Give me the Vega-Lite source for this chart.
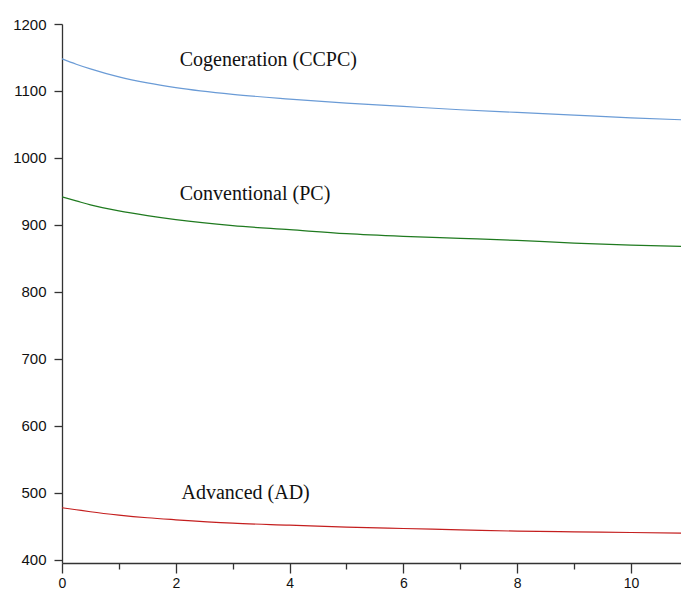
{
  "$schema": "https://vega.github.io/schema/vega-lite/v6.json",
  "width": 619,
  "height": 539,
  "autosize": {"type": "none"},
  "padding": {"left": 62, "top": 24, "right": 0, "bottom": 27},
  "background": "white",
  "config": {"view": {"stroke": null}},
  "datasets": {
    "curves": [
      {"x": 0, "y": 1148, "series": "CCPC"}, {"x": 0.25, "y": 1140, "series": "CCPC"}, {"x": 0.5, "y": 1133, "series": "CCPC"}, {"x": 1, "y": 1121, "series": "CCPC"}, {"x": 1.5, "y": 1112, "series": "CCPC"}, {"x": 2, "y": 1105, "series": "CCPC"}, {"x": 3, "y": 1095, "series": "CCPC"}, {"x": 4, "y": 1088, "series": "CCPC"}, {"x": 5, "y": 1082, "series": "CCPC"}, {"x": 6, "y": 1077, "series": "CCPC"}, {"x": 7, "y": 1072, "series": "CCPC"}, {"x": 8, "y": 1068, "series": "CCPC"}, {"x": 9, "y": 1064, "series": "CCPC"}, {"x": 10, "y": 1060, "series": "CCPC"}, {"x": 10.9, "y": 1057, "series": "CCPC"},
      {"x": 0, "y": 942, "series": "PC"}, {"x": 0.25, "y": 936, "series": "PC"}, {"x": 0.5, "y": 930, "series": "PC"}, {"x": 1, "y": 921, "series": "PC"}, {"x": 1.5, "y": 914, "series": "PC"}, {"x": 2, "y": 908, "series": "PC"}, {"x": 3, "y": 899, "series": "PC"}, {"x": 4, "y": 893, "series": "PC"}, {"x": 5, "y": 887, "series": "PC"}, {"x": 6, "y": 883, "series": "PC"}, {"x": 7, "y": 880, "series": "PC"}, {"x": 8, "y": 877, "series": "PC"}, {"x": 9, "y": 873, "series": "PC"}, {"x": 10, "y": 870, "series": "PC"}, {"x": 10.9, "y": 868, "series": "PC"},
      {"x": 0, "y": 478, "series": "AD"}, {"x": 0.25, "y": 475, "series": "AD"}, {"x": 0.5, "y": 472, "series": "AD"}, {"x": 1, "y": 467, "series": "AD"}, {"x": 1.5, "y": 463, "series": "AD"}, {"x": 2, "y": 460, "series": "AD"}, {"x": 3, "y": 455, "series": "AD"}, {"x": 4, "y": 452, "series": "AD"}, {"x": 5, "y": 449, "series": "AD"}, {"x": 6, "y": 447, "series": "AD"}, {"x": 7, "y": 445, "series": "AD"}, {"x": 8, "y": 443, "series": "AD"}, {"x": 9, "y": 442, "series": "AD"}, {"x": 10, "y": 441, "series": "AD"}, {"x": 10.9, "y": 440, "series": "AD"}
    ],
    "labels": [
      {"x": 2.07, "y": 1147, "text": "Cogeneration (CCPC)"},
      {"x": 2.07, "y": 946, "text": "Conventional (PC)"},
      {"x": 2.1, "y": 500, "text": "Advanced (AD)"}
    ]
  },
  "layer": [
    {
      "data": {"name": "curves"},
      "mark": {"type": "line", "strokeWidth": 1.2, "clip": true, "interpolate": "monotone"},
      "encoding": {
        "x": {
          "field": "x", "type": "quantitative",
          "scale": {"domain": [0, 10.88], "nice": false, "zero": false},
          "axis": {
            "title": null,
            "values": [0, 1, 2, 3, 4, 5, 6, 7, 8, 9, 10],
            "format": "d",
            "labelExpr": "datum.value % 2 === 0 ? datum.label : ''",
            "grid": false,
            "domainColor": "#333333",
            "domainWidth": 1.3,
            "tickColor": "#333333",
            "tickWidth": 1.3,
            "tickSize": {"condition": {"test": "datum.value % 2 === 0", "value": 10}, "value": 6},
            "labelPadding": 3,
            "labelFont": "Liberation Sans",
            "labelFontSize": 14,
            "labelColor": "#111111",
            "labelOverlap": false,
            "labelFlush": false
          }
        },
        "y": {
          "field": "y", "type": "quantitative",
          "scale": {"domain": [395.5, 1200], "nice": false, "zero": false},
          "axis": {
            "title": null,
            "values": [400, 450, 500, 550, 600, 650, 700, 750, 800, 850, 900, 950, 1000, 1050, 1100, 1150, 1200],
            "labelExpr": "datum.value % 100 === 0 ? datum.label : ''",
            "format": "d",
            "grid": false,
            "domainColor": "#333333",
            "domainWidth": 1.3,
            "tickColor": "#333333",
            "tickWidth": 1.3,
            "tickSize": {"condition": {"test": "datum.value % 100 === 0", "value": 8}, "value": 4},
            "labelPadding": 8,
            "labelFont": "Liberation Sans",
            "labelFontSize": 15,
            "labelColor": "#111111",
            "labelOverlap": false,
            "labelFlush": false
          }
        },
        "color": {
          "field": "series", "type": "nominal",
          "scale": {"domain": ["CCPC", "PC", "AD"], "range": ["#6a9bd6", "#1f7a1f", "#c41e1e"]},
          "legend": null
        }
      }
    },
    {
      "data": {"name": "labels"},
      "mark": {"type": "text", "align": "left", "baseline": "middle", "font": "Liberation Serif", "fontSize": 20, "color": "#111111"},
      "encoding": {
        "x": {"field": "x", "type": "quantitative"},
        "y": {"field": "y", "type": "quantitative"},
        "text": {"field": "text"}
      }
    }
  ]
}
